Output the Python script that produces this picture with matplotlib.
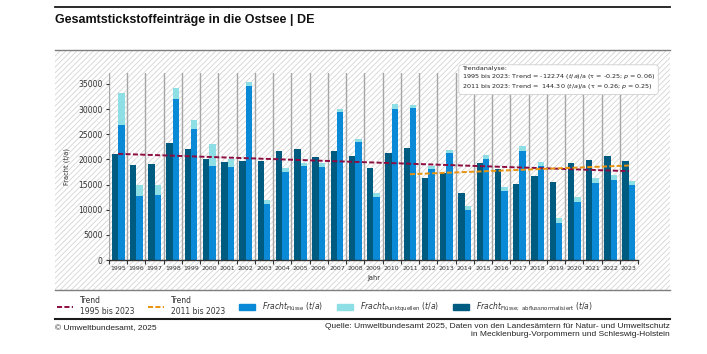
import numpy as np
import matplotlib
matplotlib.use("Agg")
import matplotlib.pyplot as plt
from matplotlib import font_manager
from matplotlib.patches import Rectangle, Patch
from matplotlib.lines import Line2D

years = list(range(1995, 2024))
# Fracht Flüsse (t/a)
fluesse = [26800, 12700, 12950, 31950, 26100, 18650, 18450, 34650, 11100, 17500,
           18650, 18450, 29400, 23500, 12600, 30100, 30200, 18100, 21300, 10000,
           20000, 13800, 21700, 18600, 7400, 11600, 15400, 16000, 15000]
# Fracht Punktquellen (t/a), gestapelt auf Flüsse
punkt = [6400, 2200, 1950, 2200, 1750, 4350, 1550, 750, 800, 850,
         700, 800, 550, 650, 650, 850, 600, 600, 600, 700,
         800, 800, 900, 900, 950, 900, 900, 800, 800]
# Fracht Flüsse, abflussnormalisiert (t/a)
normiert = [21000, 18900, 19000, 23200, 22100, 20100, 19450, 19600, 19700, 21700,
            22050, 20550, 21600, 20600, 18250, 21200, 22200, 16300, 17200, 13300,
            19200, 18100, 15100, 16600, 15600, 19200, 19900, 20600, 19700]

# Trendlinien (Endpunkte)
trend_lang_jahre = [1995, 2023]
trend_lang_werte = [21100, 17660]
trend_kurz_jahre = [2011, 2023]
trend_kurz_werte = [17050, 18780]

c_dark = "#005b80"
c_blue = "#0a8ad6"
c_cyan = "#8edfe5"
c_red = "#8c0c3f"
c_orange = "#e8930f"
txt_col = "#333333"

names = {f.name for f in font_manager.fontManager.ttflist}
narrow = "Liberation Sans Narrow" if "Liberation Sans Narrow" in names else "Liberation Sans"

plt.rcParams["hatch.linewidth"] = 0.6
plt.rcParams["hatch.color"] = "#d4d4d4"

W, H = 707, 354
fig = plt.figure(figsize=(W / 100, H / 100), dpi=100)

def fx(px):
    return px / W

def fy(py):
    return 1 - py / H

# schraffierter Hintergrund
fig.patches.append(Rectangle((fx(55), fy(290)), fx(670) - fx(55), fy(50) - fy(290),
                             transform=fig.transFigure, facecolor="white",
                             edgecolor="#d4d4d4", hatch="//////", lw=0, zorder=-5))
fig.add_artist(Line2D([fx(55), fx(670)], [fy(50), fy(50)], color="#7f7f7f", lw=1.0))
fig.add_artist(Line2D([fx(55), fx(670)], [fy(290), fy(290)], color="#7f7f7f", lw=1.0))
fig.add_artist(Line2D([fx(55), fx(670)], [fy(7), fy(7)], color="#1a1a1a", lw=1.3))
fig.add_artist(Line2D([fx(55), fx(670)], [fy(319), fy(319)], color="#1a1a1a", lw=1.5))

fig.text(fx(55), fy(20), "Gesamtstickstoffeinträge in die Ostsee | DE", family=narrow,
         fontweight="bold", fontsize=9.0, va="center", ha="left", color="#111111")

ax = fig.add_axes([fx(109), fy(260), fx(638) - fx(109), fy(73) - fy(260)])
ax.set_facecolor("none")
ax.set_zorder(1)

x = np.array(years)
w = 0.35
ax.bar(x - w / 2, normiert, width=w, color=c_dark, zorder=2)
ax.bar(x + w / 2, fluesse, width=w, color=c_blue, zorder=2)
ax.bar(x + w / 2, punkt, bottom=fluesse, width=w, color=c_cyan, zorder=2)

ax.plot(trend_lang_jahre, trend_lang_werte, color=c_red, lw=1.4,
        ls=(0, (2.6, 1.2)), zorder=3)
ax.plot(trend_kurz_jahre, trend_kurz_werte, color=c_orange, lw=1.4,
        ls=(0, (2.6, 1.2)), zorder=3)

ax.set_xlim(years[0] - 0.5, years[-1] + 0.5)
ax.set_ylim(0, 37170)
ax.set_xticks(years)
ax.set_xticklabels([str(y) for y in years])
ax.set_xticks(np.arange(years[0] - 0.5, years[-1] + 1), minor=True)
ax.set_yticks(range(0, 35001, 5000))
ax.tick_params(axis="x", which="major", length=0, labelsize=4.5, pad=4, labelcolor=txt_col)
ax.tick_params(axis="x", which="minor", length=3, width=0.8, color="#333333")
ax.tick_params(axis="y", length=2.5, width=0.8, labelsize=5.5, pad=2,
               labelcolor=txt_col, color="#333333")
ax.grid(which="minor", axis="x", color="#a6a6a6", lw=1.0, zorder=1)
for s in ["left", "right", "top"]:
    ax.spines[s].set_visible(False)
ax.spines["bottom"].set_color("#333333")
ax.spines["bottom"].set_linewidth(1.0)

ax.set_ylabel("Fracht (t/a)", fontsize=4.8, color=txt_col, labelpad=6)
ax.set_xlabel("Jahr", fontsize=4.8, color=txt_col, labelpad=3)

trend_txt = ("Trendanalyse:\n"
             "1995 bis 2023: Trend = -122.74 ($t/a$)/a (τ = -0.25; $p$ = 0.06)\n"
             "2011 bis 2023: Trend =  144.30 ($t/a$)/a (τ = 0.26; $p$ = 0.25)")
fig.text(fx(462), fy(66), trend_txt, fontsize=4.6, va="top", ha="left",
         color="#222222", linespacing=1.2, zorder=5,
         bbox=dict(boxstyle="round,pad=0.5", fc="white", ec="#cfcfcf", lw=0.6))

handles = [
    Line2D([], [], color=c_red, lw=1.4, ls=(0, (2.6, 1.2))),
    Line2D([], [], color=c_orange, lw=1.4, ls=(0, (2.6, 1.2))),
    Patch(color=c_blue),
    Patch(color=c_cyan),
    Patch(color=c_dark),
]
labels = [
    "Trend\n1995 bis 2023",
    "Trend\n2011 bis 2023",
    r"$\mathit{Fracht}_{\mathrm{Flüsse}}$ $(\mathit{t/a})$",
    r"$\mathit{Fracht}_{\mathrm{Punktquellen}}$ $(\mathit{t/a})$",
    r"$\mathit{Fracht}_{\mathrm{Flüsse;\ abflussnormalisiert}}$ $(\mathit{t/a})$",
]
leg = fig.legend(handles, labels, loc="center left", bbox_to_anchor=(fx(57), fy(306)),
                 ncol=5, frameon=False, fontsize=5.5, handlelength=2.1,
                 handletextpad=0.9, columnspacing=1.8, borderpad=0, borderaxespad=0)
for t in leg.get_texts():
    t.set_color(txt_col)

fig.text(fx(55), fy(329), "© Umweltbundesamt, 2025", family=narrow, fontsize=6,
         va="center", ha="left", color="#222222")
fig.text(fx(670), fy(323), "Quelle: Umweltbundesamt 2025, Daten von den Landesämtern für Natur- und Umweltschutz\n"
         "in Mecklenburg-Vorpommern und Schleswig-Holstein", family=narrow, fontsize=6,
         va="top", ha="right", color="#222222", linespacing=1.3, multialignment="right")

fig.savefig("out.png", dpi=100)
